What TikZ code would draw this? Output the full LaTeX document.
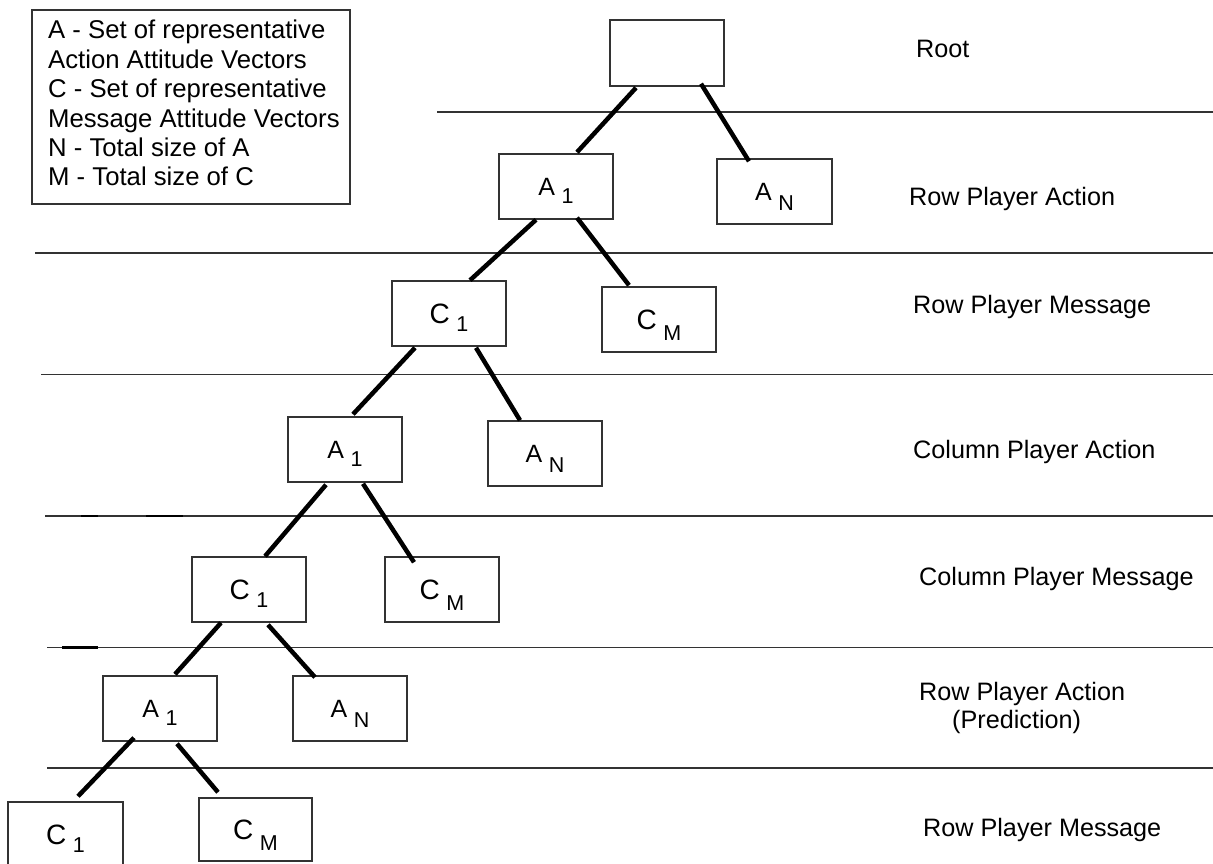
\documentclass[tikz,border=0pt]{standalone}
\usepackage{fontspec}
\setmainfont{Liberation Sans}
\usetikzlibrary{calc}
\definecolor{linegray}{HTML}{333333}
\newcommand{\mylab}[4]{{\fontsize{#1}{#1}\selectfont #2}\hspace{6.5pt}\smash{\raisebox{-#4pt}{\fontsize{21.5}{21.5}\selectfont #3}}}
\tikzset{
  treebox/.style={draw=linegray, line width=1.5pt, minimum width=114pt, minimum height=65pt, inner sep=0pt},
  conn/.style={draw=black, line width=4.5pt},
  sep/.style={draw=linegray, line width=1.5pt},
  septhick/.style={draw=black, line width=2.5pt},
  lvl/.style={anchor=base west, inner sep=0pt, font=\fontsize{25.2}{29}\selectfont},
}
\begin{document}
\begin{tikzpicture}[x=1pt,y=-1pt]
\clip (0,0) rectangle (1213,863);
\fill[white] (0,0) rectangle (1213,863);

% legend
\node[draw=linegray, line width=1.5pt, minimum width=318pt, minimum height=194pt, anchor=north west, inner sep=0pt] (legend) at (31,9) {};
\node[anchor=north west, align=left, inner sep=0pt, font=\fontsize{25.7}{29.4}\selectfont] (legendtext) at (48,20) {A - Set of representative\\Action Attitude Vectors\\C - Set of representative\\Message Attitude Vectors\\N - Total size of A\\M - Total size of C};

% separator lines
\draw[sep] (437,112) coordinate (s0a) -- (1213,112) coordinate (s0b);
\draw[sep] (35,253) coordinate (s1a) -- (1213,253) coordinate (s1b);
\draw[sep] (41,374.5) coordinate (s2a) -- (1213,374.5) coordinate (s2b);
\draw[sep] (45,516) coordinate (s3a) -- (1213,516) coordinate (s3b);
\draw[septhick] (81,516) -- (98,516);
\draw[septhick] (146,516) -- (183,516);
\draw[sep] (47,647.5) coordinate (s4a) -- (1213,647.5) coordinate (s4b);
\draw[septhick] (62,647.5) -- (98,647.5);
\draw[sep] (47,768) coordinate (s5a) -- (1213,768) coordinate (s5b);

% tree boxes
\node[treebox, minimum height=66pt] (root) at (667,53) {};
\node[treebox] (a1)  at (556,186.5) {\mylab{25}{A}{1}{8}};
\node[treebox, minimum width=115pt] (aN)  at (774.5,191.5) {\mylab{25}{A}{N}{10}};
\node[treebox] (c1)  at (449,313.5) {\mylab{28}{C}{1}{8}};
\node[treebox] (cM)  at (659,319.5) {\mylab{28}{C}{M}{11}};
\node[treebox] (a1b) at (345,449.5) {\mylab{25}{A}{1}{8}};
\node[treebox] (aNb) at (545,453.5) {\mylab{25}{A}{N}{10}};
\node[treebox] (c1b) at (249,589.5) {\mylab{28}{C}{1}{8}};
\node[treebox] (cMb) at (442,589.5) {\mylab{28}{C}{M}{11}};
\node[treebox] (a1c) at (160,708.5) {\mylab{25}{A}{1}{8}};
\node[treebox] (aNc) at (350,708.5) {\mylab{25}{A}{N}{10}};
\node[treebox, minimum width=115pt] (c1c) at (65.5,834.5) {\mylab{28}{C}{1}{8}};
\node[treebox, minimum width=113pt, minimum height=63pt] (cMc) at (255.5,829.5) {\mylab{28}{C}{M}{11}};

% connectors
\draw[conn] ($(root.south)+(-31,1)$) -- ($(a1.north)+(21,-1)$);
\draw[conn] ($(root.south)+(34,-3)$) -- ($(aN.north)+(-25.5,3)$);
\draw[conn] ($(a1.south)+(-20,0)$) -- ($(c1.north)+(21,0)$);
\draw[conn] ($(a1.south)+(21,-2)$) -- ($(cM.north)+(-30,-1)$);
\draw[conn] ($(c1.south)+(-34,1)$) -- ($(a1b.north)+(8,-2)$);
\draw[conn] ($(c1.south)+(27,1)$) -- ($(aNb.north)+(-25,0)$);
\draw[conn] ($(a1b.south)+(-19,2)$) -- ($(c1b.north)+(16,0)$);
\draw[conn] ($(a1b.south)+(18,1)$) -- ($(cMb.north)+(-28,6)$);
\draw[conn] ($(c1b.south)+(-28,0)$) -- ($(a1c.north)+(15,-1)$);
\draw[conn] ($(c1b.south)+(19,2)$) -- ($(aNc.north)+(-35,2)$);
\draw[conn] ($(a1c.south)+(-26,-4)$) -- ($(c1c.north)+(12.5,-5)$);
\draw[conn] ($(a1c.south)+(17,2)$) -- ($(cMc.north)+(-37.5,-5)$);

% level labels
\node[lvl] (l0) at (916,57) {Root};
\node[lvl] (l1) at (909,205) {Row Player Action};
\node[lvl] (l2) at (913,313) {Row Player Message};
\node[lvl] (l3) at (913,458) {Column Player Action};
\node[lvl] (l4) at (919,585) {Column Player Message};
\node[lvl] (l5) at (919,700) {Row Player Action};
\node[lvl] (l5b) at (952,728) {(Prediction)};
\node[lvl] (l6) at (923,836) {Row Player Message};
\end{tikzpicture}
\end{document}
